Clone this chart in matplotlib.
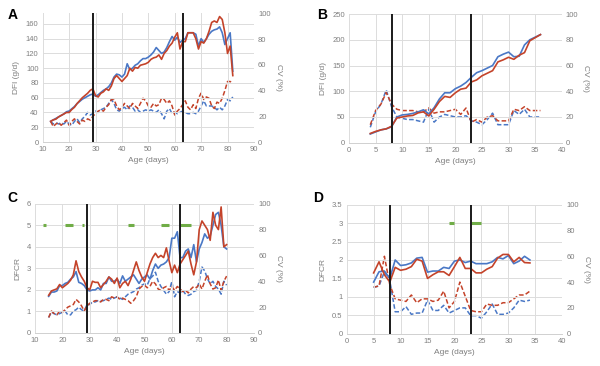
import numpy as np
import matplotlib
matplotlib.use("Agg")
import matplotlib.pyplot as plt

# ---------------------------------------------------------------------
# data (solid = mean, left axis; dashed = CV, right)
# ---------------------------------------------------------------------
age_a = np.arange(13, 83)
dfi_blue_a = [28, 30, 32, 34, 36, 38, 41, 42, 45, 48, 52, 55, 58, 60, 62, 64, 65, 62, 64, 67,
              70, 72, 75, 80, 88, 92, 91, 88, 92, 106, 98, 100, 104, 106, 110, 113, 113, 115, 118, 122,
              128, 124, 120, 122, 128, 136, 143, 138, 142, 135, 138, 140, 148, 148, 148, 146, 130, 140, 135, 140,
              146, 150, 152, 153, 156, 148, 132, 140, 148, 96]
dfi_red_a = [28, 30, 31, 34, 36, 38, 40, 40, 44, 47, 52, 56, 60, 63, 66, 70, 72, 63, 61, 66,
             68, 72, 70, 76, 86, 90, 86, 82, 86, 90, 100, 96, 101, 100, 104, 105, 106, 108, 112, 114,
             115, 118, 112, 120, 124, 130, 134, 142, 148, 126, 136, 136, 148, 148, 148, 140, 126, 136, 134, 140,
             150, 162, 164, 162, 170, 166, 148, 120, 130, 90]
cv_red_a = [16, 12, 14, 15, 13, 15, 17, 13, 16, 18, 16, 14, 17, 16, 18, 17, 20, 22, 24, 25,
            24, 27, 29, 33, 33, 28, 25, 27, 30, 28, 26, 30, 28, 26, 30, 34, 32, 28, 27, 30,
            28, 29, 34, 33, 30, 32, 28, 21, 24, 26, 29, 32, 27, 25, 29, 26, 34, 38, 33, 35,
            34, 28, 26, 31, 30, 34, 40, 47, 47, 46]
cv_blue_a = [16, 14, 15, 14, 15, 14, 16, 14, 13, 16, 18, 15, 18, 20, 23, 21, 22, 24, 23, 25,
             26, 27, 30, 33, 30, 25, 24, 26, 27, 25, 28, 27, 24, 25, 23, 24, 25, 24, 25, 24,
             23, 25, 22, 18, 24, 26, 22, 23, 22, 23, 24, 23, 22, 22, 23, 22, 24, 28, 32, 28,
             28, 28, 27, 25, 27, 25, 28, 33, 32, 35]

age_b = np.arange(4, 37)
dfi_blue_b = [17, 21, 25, 27, 31, 50, 54, 55, 57, 60, 64, 56, 68, 85, 97, 97, 105, 110, 117, 127,
              136, 140, 145, 150, 167, 172, 176, 167, 168, 190, 200, 205, 210]
dfi_red_b = [18, 22, 25, 27, 32, 48, 50, 52, 53, 58, 60, 52, 65, 80, 90, 88, 97, 104, 106, 118,
             122, 130, 135, 140, 157, 161, 166, 162, 170, 175, 198, 204, 210]
cv_red_b = [14, 25, 30, 39, 30, 26, 25, 25, 25, 24, 24, 27, 23, 24, 24, 25, 26, 22, 27, 16,
            18, 16, 20, 21, 17, 17, 17, 26, 25, 28, 25, 25, 25]
cv_blue_b = [12, 24, 30, 41, 28, 20, 19, 18, 18, 17, 16, 26, 16, 20, 22, 21, 20, 20, 21, 17,
             16, 14, 18, 23, 14, 14, 14, 25, 22, 26, 20, 20, 20]

age_c = np.arange(15, 81)
dfcr_red_c = [1.75, 1.95, 2.0, 2.05, 2.25, 2.1, 2.2, 2.3, 2.45, 2.7, 3.35, 2.85, 2.6, 2.4, 2.1, 2.0,
              2.4, 2.35, 2.35, 2.1, 2.25, 2.4, 2.6, 2.5, 2.3, 2.55, 2.1, 2.3, 2.4, 2.2, 2.5, 2.9,
              3.3, 2.9, 2.6, 2.4, 2.8, 3.2, 3.5, 3.7, 3.5, 3.6, 3.5, 3.95, 3.35, 2.8, 3.15, 2.8,
              3.2, 3.4, 3.6, 3.8, 3.2, 2.7, 3.3, 4.8, 5.2, 5.0, 4.8, 4.3, 5.6, 5.0, 4.8, 5.85,
              4.0, 4.1]
dfcr_blue_c = [1.7, 1.9, 1.9, 1.95, 2.2, 2.2, 2.3, 2.35, 2.5, 2.6, 2.85, 2.35, 2.3, 2.2, 2.0, 1.95,
               2.0, 2.0, 2.1, 2.0, 2.3, 2.3, 2.6, 2.4, 2.4, 2.5, 2.3, 2.65, 2.4, 2.5, 2.6, 2.7,
               2.5, 2.3, 2.5, 2.6, 2.7, 2.5, 2.9, 3.2, 3.0, 3.15, 3.2, 3.3, 3.5, 4.4, 4.4, 4.7,
               3.5, 3.5, 3.8, 3.9, 3.5, 4.1, 3.3, 3.9, 4.2, 4.6, 4.4, 4.5, 5.0, 5.5, 5.6, 5.0,
               4.0, 3.9]
cv_blue_c = [12, 16, 15, 14, 15, 16, 17, 14, 14, 17, 18, 20, 18, 17, 22, 22, 24, 24, 25, 25,
             25, 26, 27, 26, 27, 28, 27, 26, 28, 30, 31, 32, 34, 35, 37, 38, 37, 42, 44, 47,
             40, 36, 33, 30, 32, 40, 28, 32, 31, 33, 30, 29, 30, 32, 33, 40, 51, 48, 42, 38,
             40, 36, 34, 30, 40, 37]
cv_red_c = [12, 17, 15, 14, 17, 16, 18, 20, 21, 22, 26, 24, 21, 17, 21, 23, 24, 25, 25, 24,
            26, 26, 25, 28, 27, 28, 26, 27, 26, 25, 23, 25, 28, 34, 36, 37, 35, 36, 40, 38,
            34, 33, 35, 36, 33, 36, 33, 36, 34, 32, 33, 31, 34, 36, 35, 38, 34, 40, 45, 38,
            34, 35, 41, 33, 40, 44]
sig_c = [(13, 14), (21, 24), (27, 28), (44, 46), (56, 59), (63, 67)]

age_d = np.arange(5, 35)
dfcr_blue_d = [1.4, 1.68, 1.7, 1.5, 2.0, 1.85, 1.87, 1.92, 2.05, 2.07, 1.67, 1.7, 1.7, 1.8, 1.77,
               1.97, 2.0, 1.93, 1.97, 1.9, 1.9, 1.9, 1.95, 2.07, 2.03, 2.12, 1.9, 1.97, 2.1, 2.0]
dfcr_red_d = [1.65, 1.95, 1.6, 1.4, 1.8, 1.72, 1.75, 1.82, 2.02, 1.97, 1.5, 1.6, 1.68, 1.68, 1.58,
              1.82, 2.07, 1.77, 1.77, 1.65, 1.65, 1.75, 1.82, 2.05, 2.15, 2.15, 1.95, 2.07, 1.93, 1.92]
cv_red_d = [36, 37, 60, 38, 27, 26, 25, 30, 24, 27, 27, 25, 26, 33, 20, 25, 40, 29, 18, 17,
            17, 23, 22, 22, 24, 24, 27, 30, 30, 33]
cv_blue_d = [36, 37, 48, 41, 17, 17, 21, 15, 16, 16, 26, 18, 18, 22, 16, 18, 20, 20, 14, 14,
             12, 17, 23, 15, 15, 16, 20, 26, 25, 26]
sig_d = [(19, 20), (23, 25)]

BLUE = "#4a78c6"
RED = "#c4432a"
GREEN = "#70ad47"
GREY = "#7f7f7f"
GRID = "#dcdcdc"

plt.rcParams["font.family"] = ["Liberation Sans", "DejaVu Sans"]

fig = plt.figure(figsize=(6.0, 3.66), dpi=100)


def panel(rect, letter, letter_xy, x, s_blue, s_red, c_blue, c_red, xlim, xstep, ylim, ystep,
          ylabel, vlines, sig=None, sig_y=None):
    ax = fig.add_axes(rect)
    ax2 = ax.twinx()
    ax.set_zorder(ax2.get_zorder() + 1)
    ax.patch.set_visible(False)

    ax2.plot(x, c_blue, color=BLUE, lw=1.1, ls=(0, (3, 1.5)))
    ax2.plot(x, c_red, color=RED, lw=1.1, ls=(0, (3, 1.5)))
    ax.plot(x, s_blue, color=BLUE, lw=1.2)
    ax.plot(x, s_red, color=RED, lw=1.2)
    for v in vlines:
        ax.axvline(v, color="#1a1a1a", lw=1.4, zorder=5)
    if sig:
        for a, b in sig:
            ax.plot([a, b], [sig_y, sig_y], color=GREEN, lw=2.2, solid_capstyle="butt")

    ax.set_xlim(*xlim)
    ax.set_xticks(np.arange(xlim[0], xlim[1] + 0.1, xstep))
    ax.set_ylim(*ylim)
    yt = np.arange(0, ylim[1] + 1e-6, ystep)
    ax.set_yticks(yt)
    ax.set_yticklabels(["{:g}".format(v) for v in yt])
    ax2.set_ylim(0, 100)
    ax2.set_yticks(np.arange(0, 101, 20))
    ax.grid(True, color=GRID, lw=0.7)
    ax.set_axisbelow(True)
    for a in (ax, ax2):
        for sp in a.spines.values():
            sp.set_visible(False)
        a.tick_params(length=0, labelsize=5.5, colors=GREY, pad=3)
    ax.spines["bottom"].set_visible(True)
    ax.spines["bottom"].set_color("#d0d0d0")
    ax.spines["bottom"].set_linewidth(0.7)

    ax.set_ylabel(ylabel, fontsize=6, color=GREY, labelpad=4)
    ax2.set_ylabel("CV (%)", fontsize=6, color=GREY, rotation=270, labelpad=8)
    ax.set_xlabel("Age (days)", fontsize=6, color=GREY, labelpad=3)
    fig.text(letter_xy[0], letter_xy[1], letter,
             fontsize=10, fontweight="bold", ha="left", va="center")
    return ax


panel([0.0712, 0.612, 0.352, 0.3517], "A", (0.012, 0.958), age_a, dfi_blue_a, dfi_red_a,
      cv_blue_a, cv_red_a, (10, 90), 10, (0, 174.4), 20, "DFI (g/d)", [29, 63])
panel([0.5817, 0.610, 0.3545, 0.3517], "B", (0.528, 0.958), age_b, dfi_blue_b, dfi_red_b,
      cv_blue_b, cv_red_b, (0, 40), 5, (0, 250), 50, "DFI (g/d)", [8, 23])
panel([0.0583, 0.0902, 0.365, 0.3532], "C", (0.012, 0.459), age_c, dfcr_blue_c, dfcr_red_c,
      cv_blue_c, cv_red_c, (10, 90), 10, (0, 6), 1, "DFCR", [29, 63], sig=sig_c, sig_y=5)
panel([0.5778, 0.0883, 0.3593, 0.3524], "D", (0.522, 0.459), age_d, dfcr_blue_d, dfcr_red_d,
      cv_blue_d, cv_red_d, (0, 40), 5, (0, 3.5), 0.5, "DFCR", [8, 23], sig=sig_d, sig_y=3)

fig.savefig("out.png", dpi=100)
